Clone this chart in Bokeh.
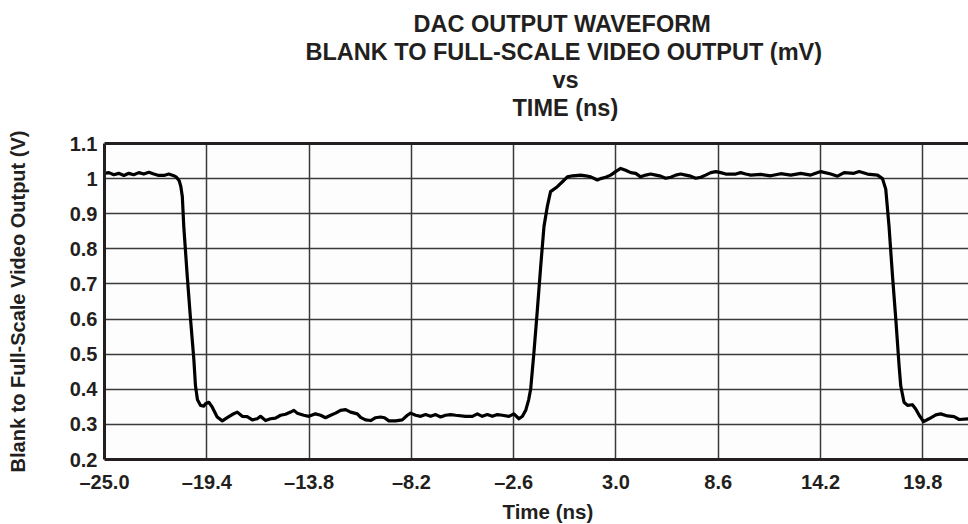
from bokeh.plotting import figure
from bokeh.models import FixedTicker, LinearAxis, Title, Range1d
from bokeh.embed import file_html
from bokeh.resources import INLINE

# ---- data ----
time_ns = [
    -25.00, -24.76, -24.49, -24.22, -23.94, -23.67, -23.40, -23.12, -22.85, -22.57,
    -22.30, -22.03, -21.75, -21.48, -21.24, -21.06, -20.91, -20.82, -20.74, -20.66,
    -20.47, -20.29, -20.11, -20.02, -19.91, -19.74, -19.56, -19.47, -19.29, -19.10,
    -18.83, -18.55, -18.28, -18.01, -17.73, -17.46, -17.19, -16.91, -16.64, -16.46,
    -16.18, -15.91, -15.64, -15.36, -15.09, -14.81, -14.63, -14.45, -14.09, -13.81,
    -13.45, -13.17, -12.90, -12.62, -12.35, -12.08, -11.80, -11.53, -11.16, -10.98,
    -10.71, -10.43, -10.16, -9.89, -9.67, -9.43, -9.06, -8.70, -8.42, -8.24,
    -7.97, -7.69, -7.42, -7.15, -6.87, -6.60, -6.33, -6.05, -5.78, -5.23,
    -4.86, -4.59, -4.32, -4.04, -3.77, -3.49, -3.22, -2.86, -2.59, -2.31,
    -2.12, -1.94, -1.78, -1.67, -1.49, -1.30, -1.12, -0.94, -0.76, -0.58,
    -0.21, 0.07, 0.34, 0.63, 1.07, 1.34, 1.62, 1.98, 2.16, 2.44,
    2.71, 2.98, 3.26, 3.53, 3.81, 4.08, 4.35, 4.63, 4.90, 5.18,
    5.45, 5.72, 6.00, 6.27, 6.54, 6.82, 7.09, 7.37, 7.64, 7.91,
    8.19, 8.46, 8.74, 9.01, 9.56, 9.83, 10.10, 10.38, 10.93, 11.47,
    12.02, 12.57, 13.12, 13.66, 14.21, 14.76, 15.13, 15.49, 16.03, 16.31,
    16.77, 17.32, 17.59, 17.77, 17.95, 18.14, 18.32, 18.50, 18.59, 18.77,
    18.96, 19.23, 19.41, 19.60, 19.84, 20.14, 20.51, 20.78, 21.15, 21.51,
    21.79, 22.30,
]
output_v = [
    1.015, 1.017, 1.011, 1.015, 1.009, 1.015, 1.011, 1.017, 1.013, 1.018,
    1.013, 1.009, 1.009, 1.013, 1.009, 1.004, 0.994, 0.977, 0.949, 0.864,
    0.722, 0.600, 0.486, 0.410, 0.370, 0.354, 0.352, 0.359, 0.363, 0.349,
    0.321, 0.310, 0.319, 0.328, 0.335, 0.323, 0.322, 0.313, 0.316, 0.323,
    0.311, 0.316, 0.318, 0.326, 0.329, 0.335, 0.340, 0.332, 0.326, 0.323,
    0.330, 0.326, 0.319, 0.326, 0.332, 0.340, 0.342, 0.335, 0.330, 0.320,
    0.313, 0.311, 0.319, 0.321, 0.319, 0.310, 0.310, 0.313, 0.326, 0.332,
    0.326, 0.323, 0.328, 0.323, 0.328, 0.321, 0.326, 0.328, 0.326, 0.323,
    0.323, 0.330, 0.323, 0.328, 0.323, 0.328, 0.326, 0.323, 0.330, 0.316,
    0.323, 0.340, 0.370, 0.400, 0.505, 0.628, 0.750, 0.864, 0.920, 0.963,
    0.977, 0.991, 1.005, 1.008, 1.010, 1.008, 1.005, 0.996, 1.000, 1.004,
    1.010, 1.020, 1.029, 1.024, 1.017, 1.015, 1.005, 1.010, 1.013, 1.010,
    1.007, 1.001, 1.004, 1.010, 1.013, 1.010, 1.007, 1.001, 1.004, 1.010,
    1.017, 1.020, 1.017, 1.013, 1.013, 1.017, 1.013, 1.010, 1.012, 1.008,
    1.014, 1.010, 1.015, 1.010, 1.020, 1.013, 1.007, 1.017, 1.015, 1.020,
    1.013, 1.010, 1.000, 0.970, 0.864, 0.722, 0.600, 0.467, 0.410, 0.363,
    0.354, 0.356, 0.344, 0.326, 0.308, 0.316, 0.327, 0.330, 0.324, 0.322,
    0.314, 0.316,
]
x_ticks = [-25.0, -19.4, -13.8, -8.2, -2.6, 3.0, 8.6, 14.2, 19.8]
x_tick_labels = ["\u201325.0", "\u201319.4", "\u201313.8", "\u20138.2", "\u20132.6",
                 "3.0", "8.6", "14.2", "19.8"]
y_ticks = [0.2, 0.3, 0.4, 0.5, 0.6, 0.7, 0.8, 0.9, 1.0, 1.1]
y_tick_labels = ["0.2", "0.3", "0.4", "0.5", "0.6", "0.7", "0.8", "0.9", "1", "1.1"]
title_lines = ["DAC OUTPUT WAVEFORM", "BLANK TO FULL-SCALE VIDEO OUTPUT (mV)", "vs", "TIME (ns)"]
x_label = "Time (ns)"
y_label = "Blank to Full-Scale Video Output (V)"

FONT = "Liberation Sans"
INK = "#231f20"
title_offsets = [309, 201, 448, 408]   # left offsets (px) of each title line from the frame edge

p = figure(width=968, height=524, x_range=Range1d(-25, 22.3), y_range=Range1d(0.2, 1.1),
           output_backend="svg", toolbar_location=None, title=None,
           min_border_left=104, min_border_right=0, min_border_top=143, min_border_bottom=63)
p.outline_line_color = None
p.background_fill_color = "#fdfdfd"

bottom = p.below[0]
left = p.left[0]

# thick top border of the frame: an axis with one invisible tick whose length
# keeps the gap between the title block and the frame
top = LinearAxis(ticker=FixedTicker(ticks=[x_ticks[0]]), major_label_overrides={x_ticks[0]: ""},
                 major_label_text_font_size="0px", major_label_standoff=0,
                 major_tick_in=0, major_tick_out=23, minor_tick_in=0, minor_tick_out=0,
                 major_tick_line_color=None, minor_tick_line_color=None,
                 axis_line_width=3, axis_line_color=INK)
p.add_layout(top, "above")

for line, off in reversed(list(zip(title_lines, title_offsets))):
    p.add_layout(Title(text=line, align="left", offset=off, text_font=FONT,
                       text_font_size="23.5px", text_font_style="bold", text_color=INK,
                       standoff=0), "above")

# x-axis title, placed as a title under the axis
p.add_layout(Title(text=x_label, align="left", offset=398, text_font=FONT,
                   text_font_size="20.5px", text_font_style="bold", text_color=INK,
                   standoff=4), "below")

bottom.ticker = FixedTicker(ticks=x_ticks)
bottom.major_label_overrides = dict(zip(x_ticks, x_tick_labels))
left.ticker = FixedTicker(ticks=y_ticks)
left.major_label_overrides = dict(zip(y_ticks, y_tick_labels))

for ax in (bottom, left):
    ax.axis_line_width = 3
    ax.axis_line_color = INK
    ax.major_tick_in = 0
    ax.major_tick_out = 0
    ax.minor_tick_in = 0
    ax.minor_tick_out = 0
    ax.major_label_text_font = FONT
    ax.major_label_text_font_size = "20px"
    ax.major_label_text_font_style = "bold"
    ax.major_label_text_color = INK
    ax.axis_label_text_font = FONT
    ax.axis_label_text_font_size = "20px"
    ax.axis_label_text_font_style = "bold"
    ax.axis_label_text_color = INK

left.axis_label = y_label
bottom.major_label_standoff = 11
left.major_label_standoff = 7
left.axis_label_standoff = 38

p.xgrid.ticker = FixedTicker(ticks=x_ticks)
p.ygrid.ticker = FixedTicker(ticks=y_ticks)
for g in (p.xgrid[0], p.ygrid[0]):
    g.grid_line_color = "#3a3a3a"
    g.grid_line_width = 1.5

p.line(time_ns, output_v, line_color="black", line_width=3.2, line_join="round")

open("out.html", "w").write(file_html(p, INLINE))
